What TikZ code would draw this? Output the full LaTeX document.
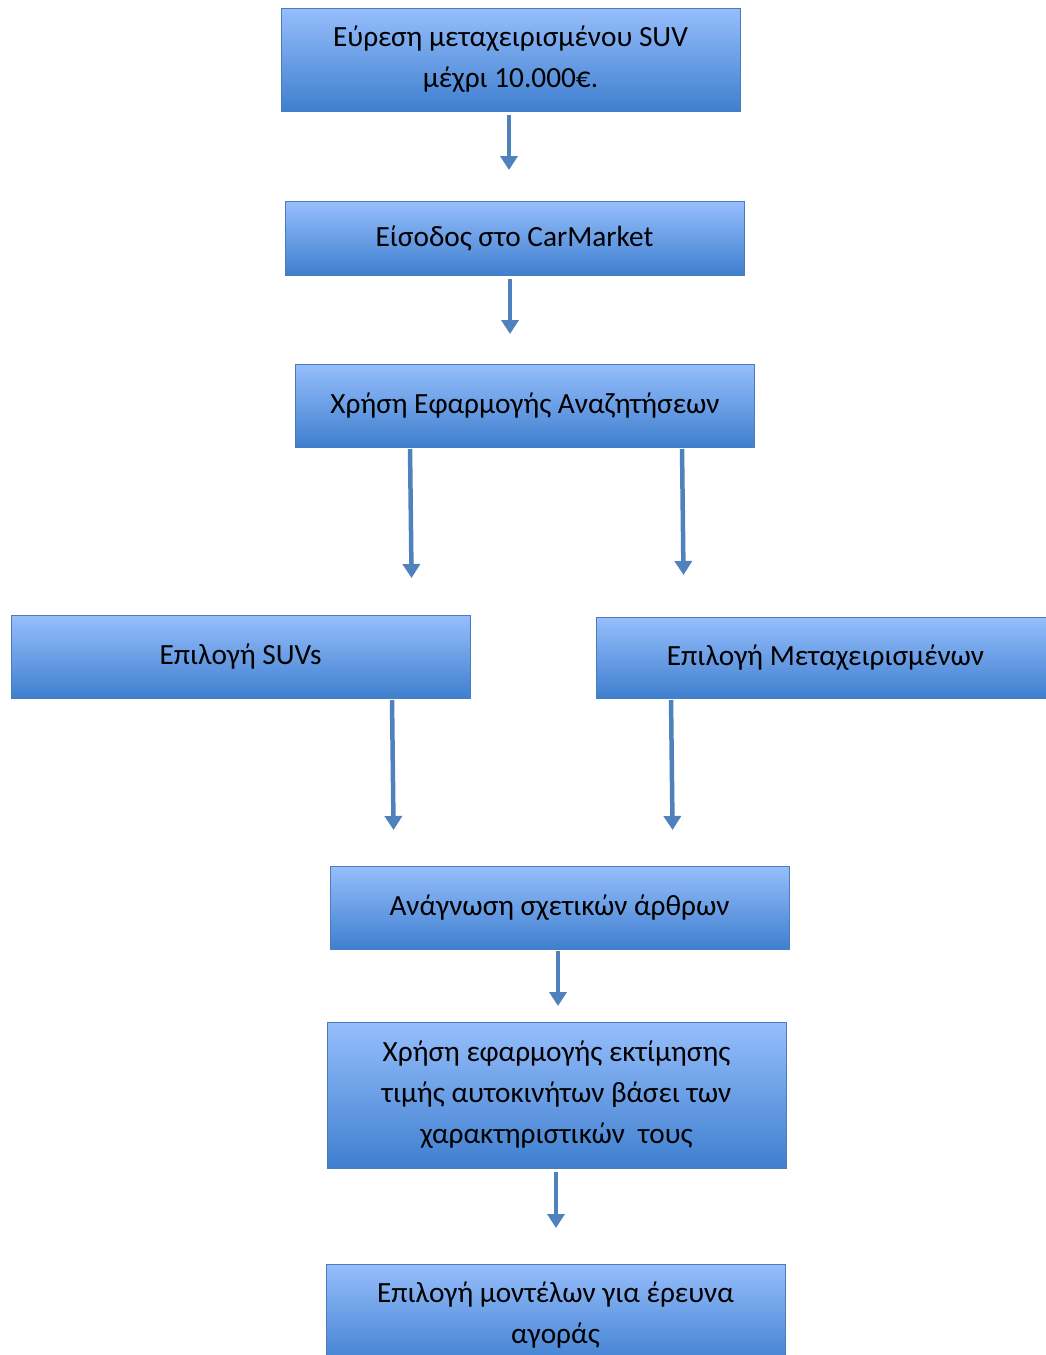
\documentclass[tikz,border=0pt]{standalone}
\usepackage{fontspec}
\setmainfont{Carlito}
\usepackage{tikz}
\usetikzlibrary{arrows.meta, positioning}

\definecolor{boxtop}{RGB}{150,190,252}
\definecolor{boxbot}{RGB}{63,127,207}
\definecolor{boxedge}{RGB}{74,126,187}
\definecolor{arcol}{RGB}{79,129,189}

\begin{document}
\begin{tikzpicture}[
    >={Triangle[width=17pt,length=14pt]}, node distance=90pt,
    box/.style={rectangle, draw=boxedge, line width=1pt, top color=boxtop, bottom color=boxbot,
      align=center, minimum width=459pt, minimum height=83pt, inner sep=2pt, outer sep=0pt,
      font=\fontsize{29.3}{41}\selectfont},
    ar/.style={->, draw=arcol, line width=4.5pt}]
  \clip (0,0) rectangle (1046pt,-1355pt);
  \node[box, minimum height=103pt, anchor=north] (find) at (510.5pt,-8pt) {Εύρεση μεταχειρισμένου SUV\\μέχρι 10.000€.};
  \node[box, minimum height=74pt, below=90pt of find, xshift=4pt] (enter) {Είσοδος στο CarMarket};
  \node[box, below=89pt of enter, xshift=10.5pt] (app) {Χρήση Εφαρμογής Αναζητήσεων};
  \node[box, below=168pt of app, xshift=-284.5pt] (suv) {Επιλογή SUVs};
  \node[box, minimum height=81pt, below=170pt of app, xshift=300.5pt] (used) {Επιλογή Μεταχειρισμένων};
  \node[box, below=168pt of suv, xshift=319pt] (read) {Ανάγνωση σχετικών άρθρων};
  \node[box, minimum height=146pt, below=73pt of read, xshift=-3pt] (est) {Χρήση εφαρμογής εκτίμησης\\τιμής αυτοκινήτων βάσει των\\χαρακτηριστικών\ \ τους};
  \node[box, minimum height=103pt, below=96pt of est, xshift=-1pt] (pick) {Επιλογή μοντέλων για έρευνα\\αγοράς};
  % connectors
  \draw[ar, shorten <=4pt, shorten >=31pt] ([xshift=-1.5pt]find.south) -- ([xshift=-5.5pt]enter.north);
  \draw[ar, shorten <=4pt, shorten >=30pt] ([xshift=-4.5pt]enter.south) -- ([xshift=-15pt]app.north);
  \draw[ar, shorten <=2pt, shorten >=37pt] ([xshift=-115pt]app.south) -- ([xshift=171.5pt]suv.north);
  \draw[ar, shorten <=2pt, shorten >=42pt] ([xshift=157pt]app.south) -- ([xshift=-141.5pt]used.north);
  \draw[ar, shorten <=2pt, shorten >=36pt] ([xshift=151.5pt]suv.south) -- ([xshift=-165.5pt]read.north);
  \draw[ar, shorten <=2pt, shorten >=36pt] ([xshift=-154.5pt]used.south) -- ([xshift=113.5pt]read.north);
  \draw[ar, shorten <=2pt, shorten >=16pt] ([xshift=-1.5pt]read.south) -- ([xshift=1.5pt]est.north);
  \draw[ar, shorten <=4pt, shorten >=36pt] ([xshift=-0.5pt]est.south) -- ([xshift=0.5pt]pick.north);
\end{tikzpicture}
\end{document}
